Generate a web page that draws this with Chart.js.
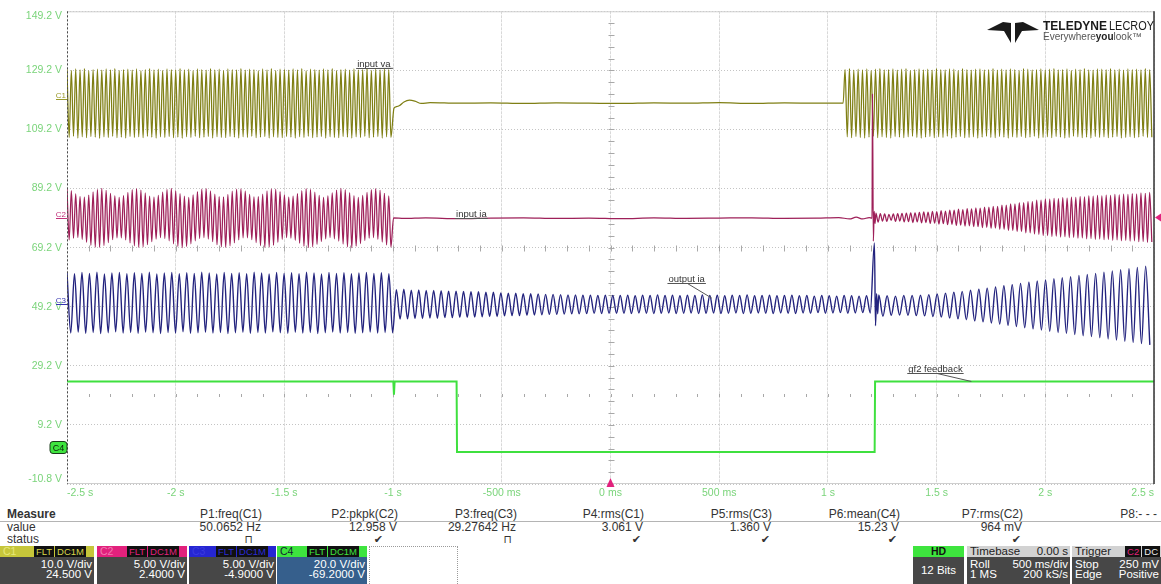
<!DOCTYPE html>
<html lang="en">
<head>
<meta charset="UTF-8">
<title>Scope capture</title>
<script src="https://cdn.jsdelivr.net/npm/chart.js"></script>
<style>
  body { margin: 0; background: #fff; width: 1161px; height: 584px; overflow: hidden; position: relative;
         font-family: "Liberation Sans", Arial, sans-serif; }
  #scope { position: absolute; left: 0; top: 0; }
  .t { position: absolute; font-size: 12px; line-height: 13px; color: #333; white-space: nowrap; }
  .bd { position: absolute; top: 546px; height: 38px; overflow: hidden; }
  .hd { position: relative; height: 11px; font-size: 10.5px; line-height: 11px; padding-left: 3px; }
  .tags { position: absolute; right: 8px; top: 0; }
  .tg { display: inline-block; background: #111; font-size: 9.5px; line-height: 11px; height: 11px; padding: 0 2px; margin-left: 1px; }
  .bb { background: #474747; color: #fff; font-size: 11.5px; line-height: 10px; height: 27px; padding-top: 2px; }
  .row { display: flex; justify-content: space-between; padding: 0 2px 0 3px; }
</style>
</head>
<body>
<canvas id="scope" width="1161" height="505"></canvas>

<div class="t" style="left:7px;top:508px;font-weight:bold">Measure</div>
<div style="position:absolute;left:0;top:521px;width:1161px;height:1px;background:#b4b4b4"></div>
<div class="t" style="left:7px;top:521px">value</div>
<div class="t" style="left:7px;top:533px">status</div>
<div id="meas"></div>

<div class="bd" style="left:0;width:94px">
  <div class="hd" style="background:#c6c63a;color:#e8e87a">C1<span class="tags"><span class="tg" style="color:#d8d84a">FLT</span><span class="tg" style="color:#d8d84a">DC1M</span></span></div>
  <div class="bb" style="text-align:right;padding-right:2px">10.0 V/div<br>24.500 V</div>
</div>
<div class="bd" style="left:97px;width:90px">
  <div class="hd" style="background:#e2217d;color:#f07ab0">C2<span class="tags"><span class="tg" style="color:#e2217d">FLT</span><span class="tg" style="color:#e2217d">DC1M</span></span></div>
  <div class="bb" style="text-align:right;padding-right:2px">5.00 V/div<br>2.4000 V</div>
</div>
<div class="bd" style="left:189px;width:87px">
  <div class="hd" style="background:#2626d2;color:#3a3ae0">C3<span class="tags"><span class="tg" style="color:#2a2ad8">FLT</span><span class="tg" style="color:#2a2ad8">DC1M</span></span></div>
  <div class="bb" style="text-align:right;padding-right:2px">5.00 V/div<br>-4.9000 V</div>
</div>
<div class="bd" style="left:277px;width:90px">
  <div class="hd" style="background:#3ee43e;color:#123">C4<span class="tags"><span class="tg" style="color:#3ee43e">FLT</span><span class="tg" style="color:#3ee43e">DC1M</span></span></div>
  <div class="bb" style="text-align:right;padding-right:2px;background:#365f8c">20.0 V/div<br>-69.2000 V</div>
</div>
<div style="position:absolute;left:369px;top:546px;width:87px;height:44px;border:1px dotted #9a9a9a"></div>

<div class="bd" style="left:913px;width:51px">
  <div class="hd" style="background:#3ee43e;color:#111;text-align:center;font-weight:bold;padding:0">HD</div>
  <div class="bb" style="text-align:center;line-height:27px;padding:0;height:29px">12 Bits</div>
</div>
<div class="bd" style="left:967px;width:103px">
  <div class="hd" style="background:#d2d2d2;color:#222;padding:0;font-size:11.5px"><div class="row"><span>Timebase</span><span>0.00 s</span></div></div>
  <div class="bb"><div class="row"><span>Roll</span><span>500 ms/div</span></div><div class="row"><span>1 MS</span><span>200 kS/s</span></div></div>
</div>
<div class="bd" style="left:1072px;width:89px">
  <div class="hd" style="background:#d2d2d2;color:#222;font-size:11.5px">Trigger<span class="tags" style="right:1px"><span class="tg" style="color:#e2217d">C2</span><span class="tg" style="color:#eee">DC</span></span></div>
  <div class="bb"><div class="row"><span>Stop</span><span>250 mV</span></div><div class="row"><span>Edge</span><span>Positive</span></div></div>
</div>

<script>
// ---- axes ----
const xTicks = [-2.5, -2, -1.5, -1, -0.5, 0, 0.5, 1, 1.5, 2, 2.5];
const xTickLabels = ['-2.5 s', '-2 s', '-1.5 s', '-1 s', '-500 ms', '0 ms', '500 ms', '1 s', '1.5 s', '2 s', '2.5 s'];
const yTicks = [-10.8, 9.2, 29.2, 49.2, 69.2, 89.2, 109.2, 129.2, 149.2];
const yTickLabels = ['-10.8 V', '9.2 V', '29.2 V', '49.2 V', '69.2 V', '89.2 V', '109.2 V', '129.2 V', '149.2 V'];

// ---- C1 input va (peaks / troughs per cycle, V) ----
const c1SegA = [-2.5, -1.0];
const c1HiA = [129.6,129.2,129.7,129.4,129.8,129.1,129.5,129.6,129.3,129.7,
  129.4,129.8,129.2,129.5,129.6,129.3,129.7,129.1,129.5,129.8,
  129.4,129.6,129.2,129.7,129.5,129.3,129.8,129.4,129.6,129.1,
  129.7,129.5,129.3,129.8,129.4,129.6,129.2,129.7,129.5,129.4,
  129.8,129.3,129.6,129.5,129.1,129.7,129.4,129.8,129.2,129.6,
  129.5,129.3,129.7,129.4,129.8,129.1,129.6,129.5,129.3,129.7,
  129.4,129.8,129.2,129.5,129.6,129.3,129.7,129.4,129.5,129.8,
  129.2,129.6,129.4,129.7,129.5];
const c1LoA = [106.5,106.9,106.3,106.7,106.4,106.8,106.6,106.2,106.7,106.5,
  106.9,106.4,106.6,106.3,106.8,106.5,106.7,106.4,106.9,106.6,
  106.3,106.7,106.5,106.8,106.4,106.6,106.2,106.7,106.5,106.9,
  106.4,106.6,106.8,106.3,106.7,106.5,106.4,106.8,106.6,106.3,
  106.7,106.5,106.9,106.4,106.6,106.8,106.3,106.7,106.5,106.4,
  106.8,106.6,106.3,106.7,106.5,106.9,106.4,106.6,106.8,106.3,
  106.7,106.5,106.4,106.8,106.6,106.3,106.7,106.5,106.9,106.4,
  106.6,106.8,106.3,106.7,106.5];
const c1FlatT = [-0.996,-0.985,-0.97,-0.95,-0.925,-0.9,-0.87,-0.83,-0.7,-0.55,-0.4,-0.25,-0.1,0.05,0.2,0.35,0.5,0.65,0.8,0.95,1.07];
const c1FlatV = [116.4,116.9,117.3,118.5,119.1,118.8,118.0,118.3,118.1,118.2,118.0,118.2,118.1,118.0,118.2,118.1,118.3,118.0,118.2,118.1,118.1];
const c1SegB = [1.079, 2.5];
const c1HiB = [129.5,129.8,129.3,129.6,129.4,129.7,129.2,129.6,129.8,129.4,
  129.5,129.7,129.3,129.6,129.8,129.2,129.5,129.7,129.4,129.6,
  129.3,129.8,129.5,129.4,129.7,129.6,129.2,129.8,129.5,129.3,
  129.6,129.7,129.4,129.5,129.8,129.3,129.6,129.4,129.7,129.5,
  129.2,129.8,129.6,129.4,129.5,129.7,129.3,129.6,129.8,129.4,
  129.5,129.7,129.2,129.6,129.5,129.8,129.4,129.3,129.7,129.6,
  129.5,129.8,129.4,129.6,129.3,129.7,129.5,129.6,129.4,129.8,
  129.5];
const c1LoB = [106.7,106.4,106.8,106.5,106.3,106.6,106.9,106.4,106.7,106.5,
  106.3,106.8,106.6,106.4,106.7,106.9,106.5,106.3,106.6,106.8,
  106.4,106.7,106.5,106.9,106.3,106.6,106.8,106.4,106.5,106.7,
  106.3,106.6,106.9,106.5,106.4,106.8,106.6,106.3,106.7,106.5,
  106.8,106.4,106.6,106.9,106.3,106.5,106.7,106.4,106.8,106.6,
  106.3,106.5,106.9,106.7,106.4,106.6,106.3,106.8,106.5,106.7,
  106.4,106.6,106.8,106.3,106.5,106.7,106.4,106.6,106.9,106.5,
  106.6];

// ---- C2 input ia ----
const c2SegA = [-2.5, -1.0];
const c2HiA = [89.2,88.5,87.4,86.5,86.3,87.0,88.1,88.9,89.3,88.6,
  87.6,86.7,86.2,86.8,87.9,88.8,89.2,88.7,87.7,86.6,
  86.3,86.9,88.0,88.9,89.3,88.5,87.5,86.6,86.2,87.1,
  88.2,89.0,89.2,88.4,87.3,86.5,86.4,87.2,88.3,89.0,
  89.1,88.3,87.2,86.4,86.5,87.3,88.4,89.1,89.0,88.2,
  87.1,86.3,86.6,87.5,88.5,89.2,88.9,88.0,86.9,86.2,
  86.7,87.7,88.7,89.3,88.8,87.8,86.8,86.2,86.9,87.9,
  88.8,89.2,88.6,87.6,86.7];
const c2LoA = [71.8,72.4,72.6,72.0,71.0,70.0,69.4,69.3,69.9,70.9,
  71.9,72.5,72.5,71.8,70.8,69.8,69.3,69.5,70.2,71.2,
  72.1,72.6,72.3,71.5,70.5,69.6,69.2,69.6,70.5,71.5,
  72.3,72.6,72.1,71.2,70.2,69.5,69.3,69.8,70.8,71.8,
  72.5,72.5,71.9,70.9,69.9,69.3,69.4,70.0,71.0,72.0,
  72.6,72.4,71.7,70.7,69.7,69.2,69.5,70.3,71.3,72.2,
  72.6,72.2,71.4,70.4,69.5,69.2,69.7,70.6,71.6,72.4,
  72.6,72.0,71.1,70.1,69.4];
const c2FlatT = [-0.998,-0.95,-0.85,-0.7,-0.55,-0.4,-0.25,-0.1,0.05,0.2,0.35,0.5,0.65,0.8,0.95,1.05,1.1,1.13,1.16,1.19,1.203,1.205,1.209,1.213,1.217];
const c2FlatV = [79.3,79.1,79.3,79.0,79.2,79.3,79.1,79.2,79.0,79.3,79.1,79.2,79.3,79.1,79.2,79.4,78.9,79.5,78.9,79.4,79.2,121.3,71.4,81.5,77.4];
const c2SegB = [1.221, 2.5];
const c2HiB = [80.9,80.7,80.6,80.5,80.6,80.7,80.8,80.9,81.0,81.0,
  81.1,81.3,81.2,81.5,81.4,81.7,81.6,81.9,81.9,82.2,
  82.1,82.4,82.3,82.7,82.6,82.9,82.9,83.2,83.2,83.6,
  83.6,84.0,84.0,84.4,84.4,84.8,84.8,85.3,85.3,85.7,
  85.6,85.9,85.8,86.1,86.0,86.3,86.2,86.5,86.4,86.7,
  86.6,86.9,86.7,87.0,86.9,87.2,87.1,87.3,87.2,87.5,
  87.4,87.7,87.6,87.9];
const c2LoB = [77.8,78.2,78.1,78.4,78.1,78.2,77.9,78.0,77.7,77.9,
  77.6,77.7,77.4,77.5,77.2,77.3,77.0,77.1,76.7,76.8,
  76.5,76.6,76.3,76.3,76.0,76.1,75.7,75.8,75.4,75.4,
  75.0,75.0,74.6,74.6,74.2,74.2,73.8,73.7,73.3,73.3,
  73.0,73.1,72.8,72.9,72.6,72.7,72.4,72.5,72.2,72.3,
  72.0,72.1,71.9,72.0,71.7,71.8,71.5,71.7,71.4,71.5,
  71.2,71.3,71.0,71.1];

// ---- C3 output ia ----
const c3SegA = [-2.5, -0.985];
const c3HiA = [60.7,60.4,60.8,60.5,60.9,60.3,60.6,60.8,60.4,60.7,
  60.5,60.9,60.3,60.6,60.8,60.4,60.7,60.5,60.9,60.6,
  60.3,60.8,60.5,60.7,60.4,60.9,60.6,60.3,60.8,60.5,
  60.7,60.4,60.9,60.6,60.3,60.8,60.5,60.7,60.4,60.6,
  60.8,60.5,60.7,60.4];
const c3LoA = [40.3,40.6,40.2,40.5,40.1,40.4,40.7,40.3,40.5,40.2,
  40.6,40.4,40.1,40.5,40.3,40.7,40.2,40.4,40.6,40.3,
  40.5,40.1,40.4,40.6,40.2,40.5,40.3,40.7,40.4,40.2,
  40.6,40.3,40.5,40.1,40.4,40.6,40.3,40.5,40.2,40.4,
  40.6,40.3,40.5,40.4];
const c3SegM = [-0.985, 1.212];
const c3HiM = [55.0,55.1,54.8,54.9,54.7,54.7,54.6,54.5,54.5,54.4,
  54.3,54.3,54.1,54.1,53.9,53.8,53.8,53.6,53.6,53.5,
  53.4,53.4,53.3,53.2,53.2,53.1,53.1,53.0,53.1,53.0,
  53.0,53.1,52.9,53.1,53.0,53.2,53.0,53.1,52.9,53.1,
  53.0,53.2,53.0,53.1,52.9,53.1,53.0,53.2,52.9,53.0,
  53.1,52.9,53.0,53.1,52.9,53.0,52.8,53.0,52.9,52.8,
  53.0,52.9,52.8,52.9];
const c3LoM = [45.0,45.1,45.2,45.2,45.4,45.3,45.5,45.5,45.6,45.6,
  45.7,45.8,45.9,45.9,46.1,46.2,46.2,46.3,46.4,46.5,
  46.6,46.6,46.7,46.8,46.8,46.9,47.0,46.9,47.0,47.0,
  47.0,46.9,47.1,47.0,46.9,47.0,47.1,46.9,47.0,47.1,
  46.9,47.0,47.1,46.9,47.0,47.1,46.9,47.0,47.1,47.0,
  46.9,47.1,47.0,46.9,47.1,47.0,47.2,47.0,47.1,47.2,
  47.0,47.1,47.2,47.1];
const c3SpikeT = [1.214, 1.219, 1.224, 1.229];
const c3SpikeV = [70.8, 42.8, 53.6, 46.8];
const c3SegB = [1.234, 2.5];
const c3HiB = [53.2,52.9,52.8,53.0,53.0,53.1,53.3,53.5,53.8,54.1,
  54.4,54.8,55.1,55.5,55.9,56.3,56.7,57.1,57.5,57.9,
  58.3,58.7,59.0,59.4,59.8,60.1,60.5,60.9,61.3,61.7,
  62.1,62.5,62.9];
const c3LoB = [46.0,46.3,46.4,46.3,46.2,46.1,45.9,45.7,45.4,45.1,
  44.8,44.4,44.1,43.7,43.3,42.9,42.5,42.1,41.7,41.3,
  40.9,40.5,40.2,39.8,39.4,39.1,38.7,38.3,37.9,37.5,
  37.1,36.7,36.3];

// ---- C4 gf2 feedback ----
const c4T = [-2.5, -0.999, -0.996, -0.993, -0.708, -0.706, 1.215, 1.217, 2.5];
const c4V = [23.9, 23.9, 19.4, 23.9, 23.9, 0.0, 0.0, 23.9, 23.9];

// ---- measurements ----
const measName = ['P1:freq(C1)', 'P2:pkpk(C2)', 'P3:freq(C3)', 'P4:rms(C1)', 'P5:rms(C3)', 'P6:mean(C4)', 'P7:rms(C2)', 'P8:- - -'];
const measValue = ['50.0652 Hz', '12.958 V', '29.27642 Hz', '3.061 V', '1.360 V', '15.23 V', '964 mV', ''];
const measStatus = ['\u2293', '\u2714', '\u2293', '\u2714', '\u2714', '\u2714', '\u2714', ''];

// trace labels on screen (t, V of the underline start and of the leader end)
const noteText = ['input va', 'input ia', 'output ia', 'gf2 feedback'];
const noteAt = [[-1.17, 129.9], [-0.715, 79.2], [0.262, 57.3], [1.365, 26.9]];
const noteTo = [[-1.0, 129.9], [-0.6, 79.2], [0.466, 52.1], [1.66, 23.9]];
const chName = ['C1', 'C2', 'C3', 'C4'];
const chMarkV = [119.8, 79.6, 50.3, 1.7];
const chColor = ['#9a9a2a', '#c2307a', '#3535b0', '#3ee43e'];

// measurement table
const measRight = [262, 398, 517, 644, 772, 900, 1023, 1157];
const statRight = [253, 383, 512, 641, 770, 897, 1021, 0];
const meas = document.getElementById('meas');
measName.forEach((n, i) => {
    const r = 1161 - measRight[i];
    meas.insertAdjacentHTML('beforeend',
        `<div class="t" style="right:${r}px;top:508px">${n}</div>` +
        `<div class="t" style="right:${r + 1}px;top:521px">${measValue[i]}</div>` +
        `<div class="t" style="right:${1161 - statRight[i]}px;top:533px;font-family:'DejaVu Sans';font-size:11px">${measStatus[i]}</div>`);
});

function wave(seg, hi, lo) {
    const n = Math.min(hi.length, lo.length), dt = (seg[1] - seg[0]) / n, pts = [];
    for (let i = 0; i < n; i++) {
        pts.push({ x: seg[0] + i * dt, y: hi[i] });
        pts.push({ x: seg[0] + (i + 0.5) * dt, y: lo[i] });
    }
    return pts;
}
function pairs(ts, vs) {
    return ts.map((t, i) => ({ x: t, y: vs[i] }));
}

const c1Pts = wave(c1SegA, c1HiA, c1LoA).concat(pairs(c1FlatT, c1FlatV), wave(c1SegB, c1HiB, c1LoB));
const c2Pts = wave(c2SegA, c2HiA, c2LoA).concat(pairs(c2FlatT, c2FlatV), wave(c2SegB, c2HiB, c2LoB));
const c3Pts = wave(c3SegA, c3HiA, c3LoA).concat(wave(c3SegM, c3HiM, c3LoM), pairs(c3SpikeT, c3SpikeV), wave(c3SegB, c3HiB, c3LoB));
const c4Pts = pairs(c4T, c4V);

const FONT = '"Liberation Sans", Arial, sans-serif';

const scopeDecor = {
    id: 'scopeDecor',
    beforeDraw(chart) {
        // first and last volt labels sit inside the graticule, like the scope draws them
        const items = chart.scales.y.getLabelItems();
        if (items.length) {
            items[0].options.textBaseline = 'bottom';
            items[items.length - 1].options.textBaseline = 'top';
        }
    },
    beforeDatasetsDraw(chart) {
        const { ctx, scales: { x, y } } = chart;
        ctx.save();
        ctx.strokeStyle = '#a8a8a8';
        ctx.lineWidth = 1;
        const cx = Math.round(x.getPixelForValue(0)) + 0.5;
        const cy = Math.round(y.getPixelForValue(69.2)) + 0.5;
        const ry = Math.round(y.getPixelForValue(19.2)) + 0.5;
        ctx.beginPath();
        for (let k = 1; k < 50; k++) {
            const px = Math.round(x.getPixelForValue(-2.5 + k * 0.1)) + 0.5;
            ctx.moveTo(px, cy - 3); ctx.lineTo(px, cy + 3);
            ctx.moveTo(px, ry - 1.5); ctx.lineTo(px, ry + 1.5);
        }
        for (let k = 1; k < 40; k++) {
            const py = Math.round(y.getPixelForValue(-10.8 + k * 4)) + 0.5;
            ctx.moveTo(cx - 3, py); ctx.lineTo(cx + 3, py);
        }
        ctx.stroke();
        ctx.restore();
    },
    afterDatasetsDraw(chart) {
        const { ctx, chartArea: a, scales: { x, y } } = chart;
        ctx.save();
        // frame
        ctx.lineWidth = 1;
        ctx.strokeStyle = '#cfcfcf';
        ctx.beginPath();
        ctx.moveTo(a.left, a.top + 0.5); ctx.lineTo(a.right, a.top + 0.5);
        ctx.moveTo(a.left, a.bottom - 0.5); ctx.lineTo(a.right, a.bottom - 0.5);
        ctx.stroke();
        ctx.strokeStyle = '#4a4a4a';
        ctx.setLineDash([2, 2]);
        ctx.beginPath(); ctx.moveTo(a.left + 0.5, a.top); ctx.lineTo(a.left + 0.5, a.bottom); ctx.stroke();
        ctx.setLineDash([]);
        ctx.strokeStyle = '#333';
        ctx.lineWidth = 1.5;
        ctx.beginPath(); ctx.moveTo(a.right, a.top); ctx.lineTo(a.right, a.bottom); ctx.stroke();

        // trace labels
        ctx.font = '9.5px ' + FONT;
        ctx.fillStyle = '#333';
        ctx.strokeStyle = '#555';
        ctx.lineWidth = 1;
        ctx.textBaseline = 'alphabetic';
        noteText.forEach((s, i) => {
            const px = x.getPixelForValue(noteAt[i][0]), py = Math.round(y.getPixelForValue(noteAt[i][1])) + 0.5;
            const w = ctx.measureText(s).width;
            ctx.fillText(s, px + 1, py - 2);
            ctx.beginPath();
            ctx.moveTo(px, py); ctx.lineTo(px + w + 2, py);
            ctx.moveTo(px + w * 0.55, py);
            ctx.lineTo(x.getPixelForValue(noteTo[i][0]), y.getPixelForValue(noteTo[i][1]));
            ctx.stroke();
        });

        // channel offset markers
        chName.forEach((c, i) => {
            const py = Math.round(y.getPixelForValue(chMarkV[i])) + 0.5;
            if (i < 3) {
                ctx.font = '8px ' + FONT;
                ctx.fillStyle = chColor[i];
                ctx.textAlign = 'right';
                ctx.fillText(c, a.left - 1, py - 1);
                ctx.strokeStyle = chColor[i];
                ctx.beginPath(); ctx.moveTo(a.left - 11, py + 1); ctx.lineTo(a.left, py + 1); ctx.stroke();
            } else {
                ctx.fillStyle = chColor[i];
                ctx.strokeStyle = '#1a3a1a';
                ctx.beginPath();
                ctx.roundRect(a.left - 17, py - 6, 17, 12, 3);
                ctx.fill(); ctx.stroke();
                ctx.fillStyle = '#0a200a';
                ctx.font = '9px ' + FONT;
                ctx.textAlign = 'center';
                ctx.fillText(c, a.left - 8.5, py + 3);
            }
        });

        // trigger markers
        const ty = y.getPixelForValue(79.4);
        ctx.fillStyle = '#e2217d';
        ctx.beginPath(); ctx.moveTo(a.right + 1, ty); ctx.lineTo(a.right + 7, ty - 4); ctx.lineTo(a.right + 7, ty + 4); ctx.closePath(); ctx.fill();
        const tx = x.getPixelForValue(0);
        ctx.beginPath(); ctx.moveTo(tx, a.bottom - 6); ctx.lineTo(tx - 4, a.bottom + 3); ctx.lineTo(tx + 4, a.bottom + 3); ctx.closePath(); ctx.fill();

        // logo
        ctx.fillStyle = '#1a1a1a';
        ctx.beginPath();
        ctx.moveTo(987, 30); ctx.lineTo(1003, 22); ctx.lineTo(1011, 23); ctx.lineTo(1011, 43); ctx.lineTo(1004, 31); ctx.closePath();
        ctx.moveTo(1039, 30); ctx.lineTo(1023, 22); ctx.lineTo(1015, 23); ctx.lineTo(1015, 43); ctx.lineTo(1022, 31); ctx.closePath();
        ctx.fill();
        ctx.textAlign = 'left';
        ctx.font = 'bold 12.5px ' + FONT;
        ctx.fillText('TELEDYNE', 1043, 30, 64);
        ctx.font = '12.5px ' + FONT;
        ctx.fillText('LECROY', 1109, 30, 45);
        ctx.font = '10px ' + FONT;
        ctx.fillStyle = '#555';
        ctx.fillText('Everywhere', 1043, 40);
        let ex = 1043 + ctx.measureText('Everywhere').width;
        ctx.font = 'bold 10px ' + FONT;
        ctx.fillStyle = '#222';
        ctx.fillText('you', ex, 40);
        ex += ctx.measureText('you').width;
        ctx.font = '10px ' + FONT;
        ctx.fillStyle = '#555';
        ctx.fillText('look\u2122', ex, 40);
        ctx.restore();
    }
};

Chart.defaults.font.family = FONT;

new Chart(document.getElementById('scope'), {
    type: 'line',
    data: {
        datasets: [
            { label: 'input ia', data: c2Pts, borderColor: '#9e2059' },
            { label: 'output ia', data: c3Pts, borderColor: '#23237e', borderWidth: 1.4 },
            { label: 'gf2 feedback', data: c4Pts, borderColor: '#3fe03f', borderWidth: 2, cubicInterpolationMode: 'default', tension: 0 },
            { label: 'input va', data: c1Pts, borderColor: '#7f7f14' }
        ]
    },
    options: {
        responsive: false,
        animation: false,
        events: [],
        layout: { padding: { top: 9, right: 7, left: 0, bottom: 0 } },
        elements: {
            point: { radius: 0 },
            line: { borderWidth: 1.25, cubicInterpolationMode: 'monotone' }
        },
        plugins: { legend: { display: false }, tooltip: { enabled: false } },
        scales: {
            x: {
                type: 'linear', min: -2.5, max: 2.5,
                afterBuildTicks: s => { s.ticks = xTicks.map(v => ({ value: v })); },
                afterFit: s => { s.height = 21; },
                ticks: {
                    autoSkip: false, maxRotation: 0, align: 'inner', padding: 3,
                    color: '#7ad47a', font: { size: 10.5 },
                    callback: (v, i) => xTickLabels[i]
                },
                grid: { color: '#d8d8d8', drawTicks: false },
                border: { display: false, dash: [3, 1] }
            },
            y: {
                type: 'linear', min: -10.8, max: 149.2,
                afterBuildTicks: s => { s.ticks = yTicks.map(v => ({ value: v })); },
                afterFit: s => { s.width = 67; },
                ticks: {
                    autoSkip: false, padding: 5,
                    color: '#7ad47a', font: { size: 10.5 },
                    callback: (v, i) => yTickLabels[i]
                },
                grid: { color: '#c4c4c4', drawTicks: false },
                border: { display: false, dash: [1, 2] }
            }
        }
    },
    plugins: [scopeDecor]
});
</script>
</body>
</html>
